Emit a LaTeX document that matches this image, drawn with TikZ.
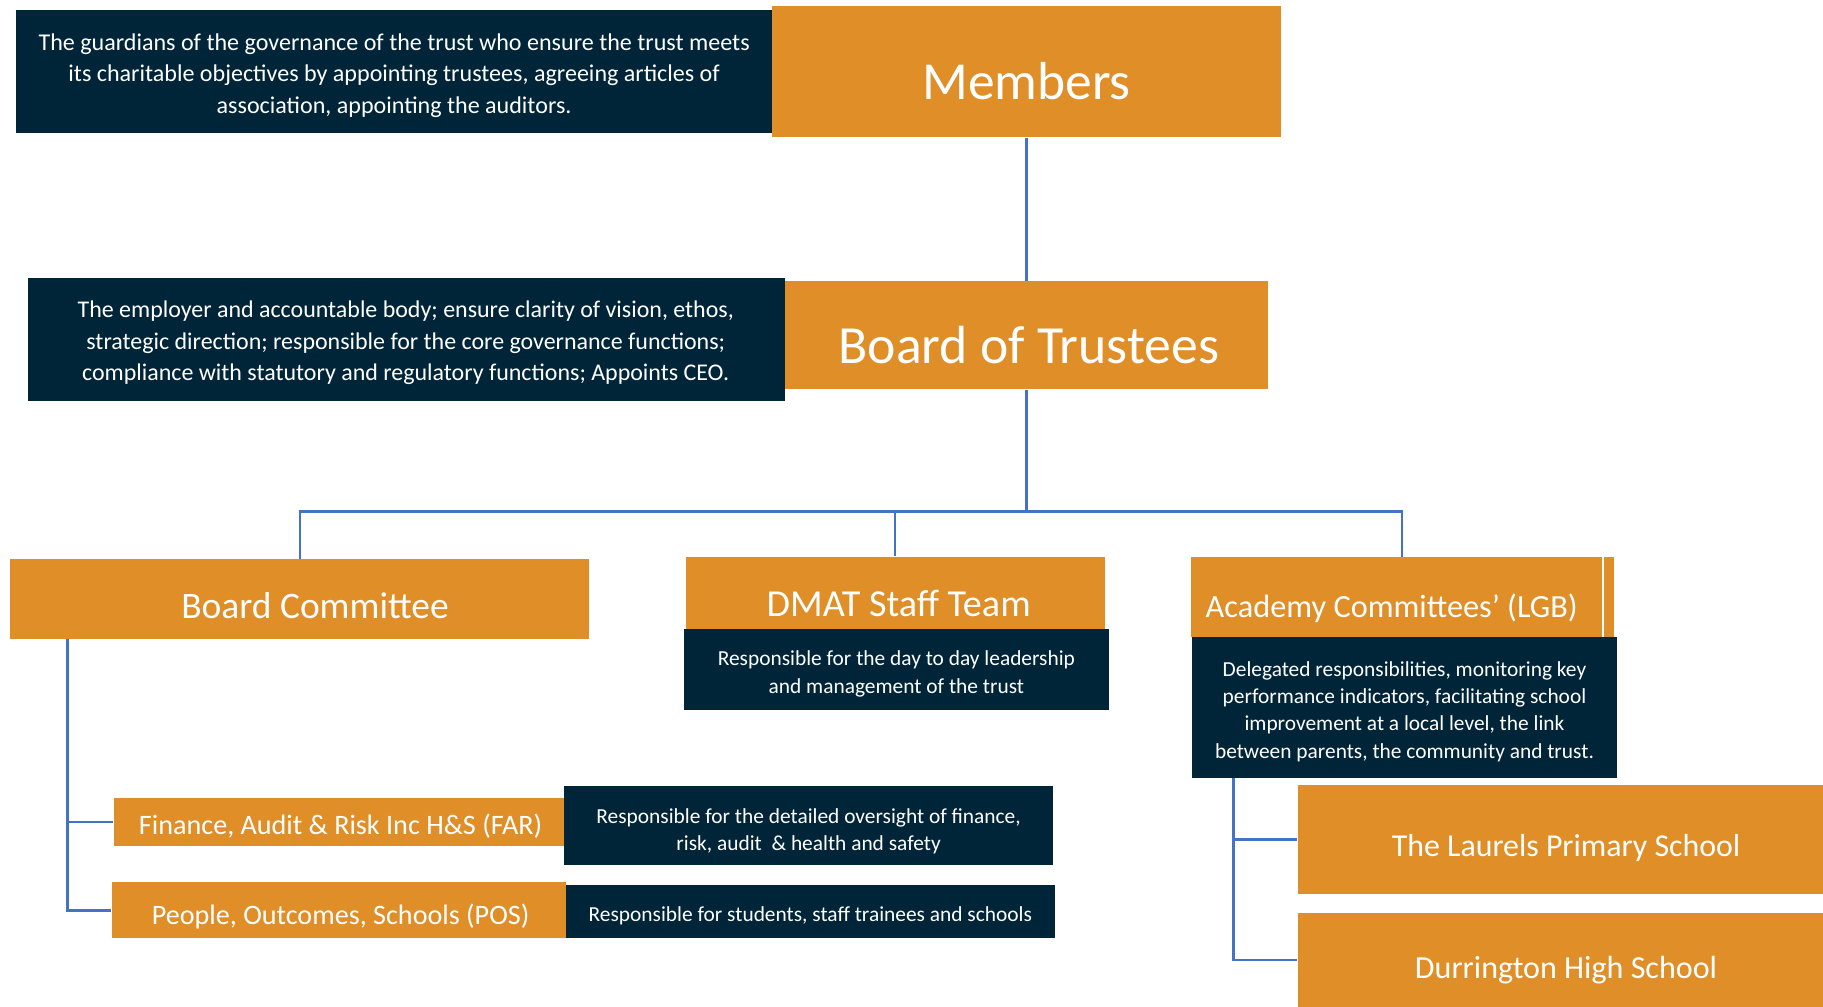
\documentclass[tikz,border=0pt]{standalone}
\usepackage{fontspec}
\setmainfont{Carlito}
\definecolor{orgc}{HTML}{DF8E28}
\definecolor{navc}{HTML}{012538}
\definecolor{linc}{HTML}{4472C4}
\tikzset{
  obox/.style={fill=orgc, draw=none, inner sep=0pt},
  nbox/.style={fill=navc, draw=none, inner sep=0pt},
  otext/.style={text=white, inner sep=0pt, align=center},
  ntext/.style={text=white, inner sep=0pt, align=center, yshift=-1pt},
  conn/.style={draw=linc, line width=1pt},
}
\begin{document}
\begin{tikzpicture}[x=0.5pt,y=-0.5pt]
\useasboundingbox (0,0) rectangle (1568,866);
% boxes
\node[obox, minimum width=219pt, minimum height=56.5pt] (mem) at (883,61.5) {};
\node[nbox, minimum width=325pt, minimum height=52.5pt] (memd) at (339,61.5) {};
\node[obox, minimum width=208pt, minimum height=46.5pt] (bot) at (883,288.5) {};
\node[nbox, minimum width=325.5pt, minimum height=53pt] (botd) at (349.5,292) {};
\node[obox, minimum width=249pt, minimum height=34.5pt] (bc) at (258,515.5) {};
\node[obox, minimum width=180pt, minimum height=31pt] (dmat) at (770,510) {};
\node[nbox, minimum width=183pt, minimum height=35pt] (dmatd) at (771,576) {};
\node[obox, minimum width=177pt, minimum height=34.5pt] (lgb) at (1201,513.5) {};
\node[obox, minimum width=4pt, minimum height=34.5pt] (lgbs) at (1384,513.5) {};
\node[nbox, minimum width=183pt, minimum height=60.5pt] (lgbd) at (1208,608.5) {};
\node[obox, minimum width=193.5pt, minimum height=21pt] (far) at (291.5,707) {};
\node[nbox, minimum width=210.5pt, minimum height=34pt] (fard) at (695.5,710) {};
\node[obox, minimum width=195.5pt, minimum height=24pt] (pos) at (291.5,783) {};
\node[nbox, minimum width=210pt, minimum height=23pt] (posd) at (697,784) {};
\node[obox, minimum width=226pt, minimum height=47pt] (lau) at (1342,722) {};
\node[obox, minimum width=226pt, minimum height=40.5pt] (dur) at (1342,825.5) {};
% texts
\node[otext, font=\fontsize{23}{27}\selectfont] (memt) at (883,70) {Members};
\node[ntext, font=\fontsize{10.35}{13.5}\selectfont] (memdt) at (339,63) {The guardians of the governance of the trust who ensure the trust meets\\its charitable objectives by appointing trustees, agreeing articles of\\association, appointing the auditors.};
\node[otext, font=\fontsize{23.1}{27}\selectfont] (bott) at (885,297) {Board of Trustees};
\node[ntext, font=\fontsize{10.3}{13.5}\selectfont] (botdt) at (349,293) {The employer and accountable body; ensure clarity of vision, ethos,\\strategic direction; responsible for the core governance functions;\\compliance with statutory and regulatory functions; Appoints CEO.};
\node[otext, font=\fontsize{16.1}{19}\selectfont] (bct) at (271,521) {Board Committee};
\node[otext, font=\fontsize{16.4}{19}\selectfont] (dmatt) at (773,519) {DMAT Staff Team};
\node[ntext, font=\fontsize{9.2}{12}\selectfont] (dmatdt) at (771,578) {Responsible for the day to day leadership\\and management of the trust};
\node[otext, font=\fontsize{13.9}{16}\selectfont] (lgbt) at (1197,523) {Academy Committees’ (LGB)};
\node[ntext, font=\fontsize{9.2}{11.8}\selectfont] (lgbdt) at (1208,610) {Delegated responsibilities, monitoring key\\performance indicators, facilitating school\\improvement at a local level, the link\\between parents, the community and trust.};
\node[otext, font=\fontsize{12.1}{14}\selectfont] (fart) at (293,711) {Finance, Audit \& Risk Inc H\&S (FAR)};
\node[ntext, font=\fontsize{9.2}{11.5}\selectfont] (fardt) at (695.5,713) {Responsible for the detailed oversight of finance,\\risk, audit \ \& health and safety};
\node[otext, font=\fontsize{12.1}{14}\selectfont] (post) at (293,788) {People, Outcomes, Schools (POS)};
\node[ntext, font=\fontsize{9.2}{11.5}\selectfont] (posdt) at (697,786) {Responsible for students, staff trainees and schools};
\node[otext, font=\fontsize{13.7}{16}\selectfont] (laut) at (1347,729) {The Laurels Primary School};
\node[otext, font=\fontsize{13.8}{16}\selectfont] (durt) at (1347,834) {Durrington High School};
% connectors
\coordinate (j) at (883,440);
\coordinate (lgbtop) at (1206,479);
\coordinate (bcl) at (58,550);
\coordinate (lgbl) at (1061,669);
\draw[conn] (mem.south) -- (bot.north);
\draw[conn] (bot.south) -- (j);
\draw[conn] (j) -| (bc.north);
\draw[conn] (j) -| (dmat.north);
\draw[conn] (j) -| (lgbtop);
\draw[conn] (bcl) |- (far.west);
\draw[conn] (bcl) |- (pos.west);
\draw[conn] (lgbl) |- (lau.west);
\draw[conn] (lgbl) |- (dur.west);
\end{tikzpicture}
\end{document}
